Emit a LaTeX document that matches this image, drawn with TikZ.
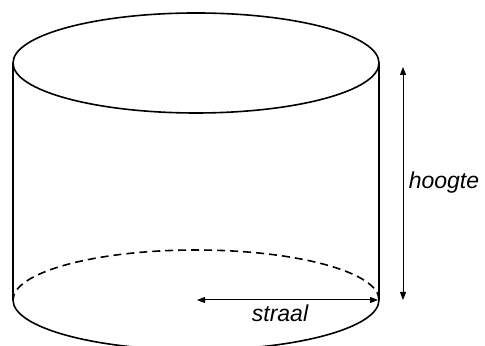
\documentclass[tikz,border=0pt]{standalone}
\usepackage{fontspec}
\setmainfont{Liberation Sans}
\usepackage{tikz}
\usetikzlibrary{arrows.meta}

\tikzset{
  rand/.style={line width=0.8pt},
  maat/.style={line width=0.5pt, {Triangle[length=4pt,width=3pt]}-{Triangle[length=4pt,width=3pt]}},
  label/.style={font=\fontsize{11.5}{14}\selectfont\itshape}
}

\begin{document}
\begin{tikzpicture}[x=0.5pt, y=0.5pt]
\useasboundingbox (0,0) rectangle (485,346);
%%%%% Cylinder %%%%%
\coordinate (boven) at (196,283);
\coordinate (onder) at (196,46);
\draw[rand] (boven) ellipse [x radius=183, y radius=50];
\draw[rand] (13,283)--(13,46);
\draw[rand] (379,283)--(379,46);
\draw[rand] (379,46) arc[start angle=0, end angle=-180, x radius=183, y radius=50];
\draw[rand, dash pattern=on 4pt off 2.5pt] (379,46) arc[start angle=0, end angle=180, x radius=183, y radius=50];
%%%%% Maten %%%%%
\coordinate (htop) at (403,279);
\coordinate (hbot) at (403,46);
\draw[maat] (htop)--(hbot);
\node[label] (hoogte) at (444,163) {hoogte};
\coordinate (smid) at (197,46);
\coordinate (srand) at (378,46);
\draw[maat] (smid)--(srand);
\node[label] (straal) at (280,33) {straal};
\end{tikzpicture}
\end{document}
